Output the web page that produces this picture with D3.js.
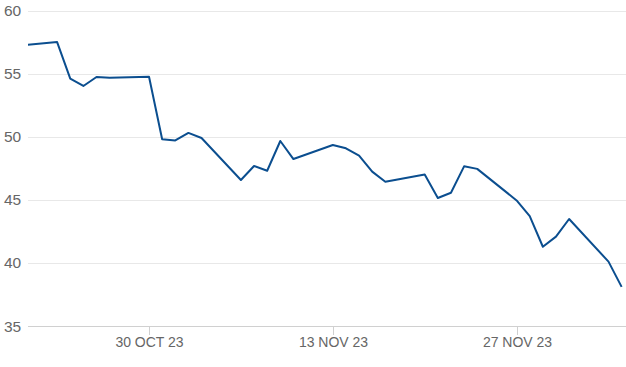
<!DOCTYPE html>
<html>
<head>
<meta charset="utf-8">
<script src="https://cdn.jsdelivr.net/npm/d3@7"></script>
<style>
  body { margin: 0; background: #fff; }
  svg { display: block; font-family: "Liberation Sans", Arial, sans-serif; }
</style>
</head>
<body>
<svg id="chart" width="626" height="367"></svg>
<script>
"use strict";

// trading days and closing values
var dates = ["2023-10-20", "2023-10-23", "2023-10-24", "2023-10-25", "2023-10-26", "2023-10-27",
  "2023-10-30", "2023-10-31", "2023-11-01", "2023-11-02", "2023-11-03",
  "2023-11-06", "2023-11-07", "2023-11-08", "2023-11-09", "2023-11-10",
  "2023-11-13", "2023-11-14", "2023-11-15", "2023-11-16", "2023-11-17",
  "2023-11-20", "2023-11-21", "2023-11-22", "2023-11-23", "2023-11-24",
  "2023-11-27", "2023-11-28", "2023-11-29", "2023-11-30", "2023-12-01",
  "2023-12-04", "2023-12-05"];
var values = [57.2, 57.5, 54.6, 54.02, 54.73, 54.67,
  54.75, 49.8, 49.7, 50.3, 49.9,
  46.57, 47.68, 47.3, 49.66, 48.23,
  49.34, 49.08, 48.5, 47.23, 46.43,
  47.0, 45.14, 45.56, 47.65, 47.45,
  44.95, 43.7, 41.28, 42.08, 43.48,
  40.1, 38.1];
var yTicks = [35, 40, 45, 50, 55, 60];
var xTicks = ["2023-10-30", "2023-11-13", "2023-11-27"];
var xTickLabels = ["30 OCT 23", "13 NOV 23", "27 NOV 23"];

var parse = d3.utcParse("%Y-%m-%d");
var parseTime = d3.utcParse("%Y-%m-%d %H:%M");
var data = dates.map(function (d, i) { return { date: parse(d), value: values[i] }; });

var plotLeft = 28, plotRight = 626, plotTop = 10.5, plotBottom = 326;

var x = d3.scaleUtc()
  .domain([parseTime("2023-10-20 18:45"), parseTime("2023-12-05 08:00")])
  .range([plotLeft, plotRight]);
var y = d3.scaleLinear().domain([35, 60]).range([plotBottom, plotTop]);

var svg = d3.select("#chart");

svg.append("defs").append("clipPath").attr("id", "plotClip")
  .append("rect")
  .attr("x", plotLeft).attr("y", 0)
  .attr("width", plotRight - plotLeft).attr("height", plotBottom + 2);

// horizontal gridlines
svg.append("g").selectAll("line")
  .data(yTicks)
  .enter().append("line")
  .attr("x1", plotLeft).attr("x2", plotRight)
  .attr("y1", function (d) { return Math.round(y(d)) + 0.5; })
  .attr("y2", function (d) { return Math.round(y(d)) + 0.5; })
  .attr("stroke", function (d) { return d == 35 ? "#d0d0d0" : "#e8e8e8"; })
  .attr("stroke-width", 1);

// y labels
svg.append("g").selectAll("text")
  .data(yTicks)
  .enter().append("text")
  .attr("x", 4)
  .attr("y", function (d) { return y(d); })
  .attr("dy", "0.36em")
  .attr("font-size", 15.5)
  .attr("fill", "#666")
  .text(function (d) { return d; });

// x ticks and labels
var xg = svg.append("g").selectAll("g")
  .data(xTicks)
  .enter().append("g")
  .attr("transform", function (d) { return "translate(" + (Math.round(x(parse(d))) + 0.5) + ",0)"; });
xg.append("line")
  .attr("y1", plotBottom).attr("y2", plotBottom + 9)
  .attr("stroke", "#d0d0d0");
xg.append("text")
  .attr("y", plotBottom + 21)
  .attr("text-anchor", "middle")
  .attr("font-size", 14)
  .attr("fill", "#666")
  .text(function (d, i) { return xTickLabels[i]; });

// price line
var line = d3.line()
  .x(function (d) { return x(d.date); })
  .y(function (d) { return y(d.value); });

svg.append("path")
  .datum(data)
  .attr("clip-path", "url(#plotClip)")
  .attr("d", line)
  .attr("fill", "none")
  .attr("stroke", "#0b4e8f")
  .attr("stroke-width", 2)
  .attr("stroke-linejoin", "round");
</script>
</body>
</html>
